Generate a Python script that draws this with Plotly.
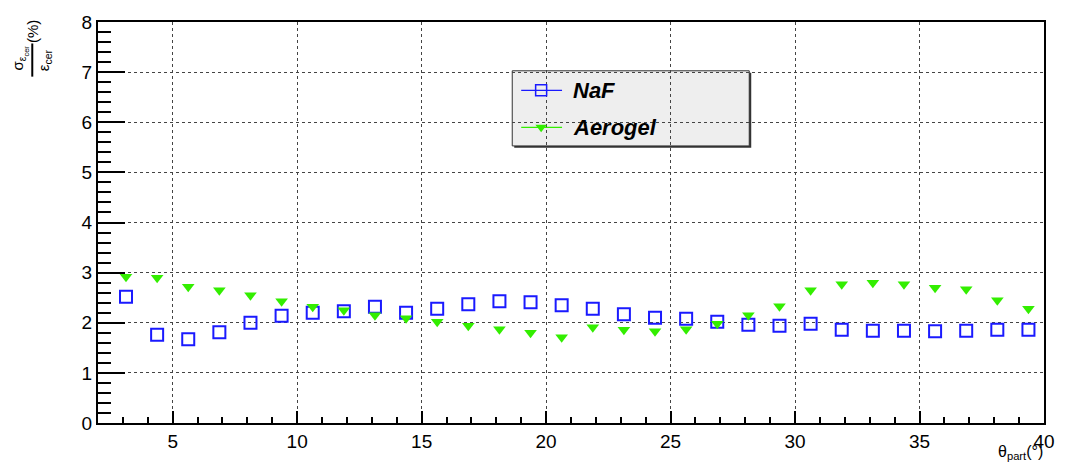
import plotly.graph_objects as go

# Bin centres of the particle polar angle (degrees)
theta = [3.125 + 1.25 * i for i in range(30)]

# Relative resolution of the Cherenkov efficiency (%)
naf = [2.52, 1.76, 1.67, 1.81, 2.00, 2.14, 2.20, 2.23, 2.32, 2.20,
       2.28, 2.37, 2.43, 2.41, 2.35, 2.28, 2.17, 2.10, 2.08, 2.02,
       1.96, 1.94, 1.98, 1.86, 1.84, 1.84, 1.83, 1.84, 1.86, 1.86]
aerogel = [2.92, 2.90, 2.72, 2.65, 2.55, 2.43, 2.32, 2.25, 2.15, 2.09,
           2.02, 1.94, 1.87, 1.80, 1.71, 1.91, 1.86, 1.83, 1.87, 1.98,
           2.15, 2.33, 2.65, 2.77, 2.80, 2.77, 2.70, 2.67, 2.45, 2.28]

series_names = ["NaF", "Aerogel"]
x_range = [2, 40]
y_range = [0, 8]

W, H = 1067, 468
L, R, T, B = 98, 19, 12, 45

BLUE = "#1a1aff"
GREEN = "#33ee00"
FONT = "Liberation Sans, Arial, sans-serif"


def px(xp):
    return (xp - L) / (W - L - R)


def py(yp):
    return (H - B - yp) / (H - T - B)


fig = go.Figure()

fig.add_trace(go.Scatter(
    x=theta, y=naf, mode="markers", name=series_names[0], showlegend=False,
    marker=dict(symbol="square-open", size=12, color=BLUE, line=dict(width=2, color=BLUE)),
))
fig.add_trace(go.Scatter(
    x=theta, y=aerogel, mode="markers", name=series_names[1], showlegend=False,
    marker=dict(symbol="triangle-down", size=11, color=GREEN, line=dict(width=0)),
))

# Legend box (drawn by hand to mimic the ROOT TLegend)
lx0, lx1, ly0, ly1 = 514, 752, 62, 139
shapes = [
    dict(type="rect", xref="paper", yref="paper", layer="between",
         x0=px(lx0 + 2), x1=px(lx1 + 2), y0=py(ly1 + 2), y1=py(ly0 + 2),
         fillcolor="#333333", line=dict(width=0)),
    dict(type="rect", xref="paper", yref="paper", layer="between",
         x0=px(lx0), x1=px(lx1), y0=py(ly1), y1=py(ly0),
         fillcolor="#eeeeee", line=dict(color="#333333", width=1)),
]
entry_y = [82, 120]
entry_col = [BLUE, GREEN]
for yy, col in zip(entry_y, entry_col):
    shapes.append(dict(type="line", xref="paper", yref="paper", layer="between",
                       x0=px(523), x1=px(564), y0=py(yy), y1=py(yy),
                       line=dict(color=col, width=1.2)))

# y-axis title drawn as a rotated fraction
shapes.append(dict(type="line", xref="paper", yref="paper",
                   x0=px(32), x1=px(32), y0=py(68), y1=py(34),
                   line=dict(color="black", width=2)))

# Legend markers on an overlay axis spanning the paper
fig.add_trace(go.Scatter(
    x=[px(543)], y=[py(entry_y[0])], xaxis="x2", yaxis="y2", mode="markers",
    showlegend=False, hoverinfo="skip",
    marker=dict(symbol="square-open", size=11, color=BLUE, line=dict(width=1.5, color=BLUE)),
))
fig.add_trace(go.Scatter(
    x=[px(543)], y=[py(entry_y[1])], xaxis="x2", yaxis="y2", mode="markers",
    showlegend=False, hoverinfo="skip",
    marker=dict(symbol="triangle-down", size=10, color=GREEN, line=dict(width=0)),
))

annotations = []
for name, yy in zip(series_names, entry_y):
    annotations.append(dict(
        xref="paper", yref="paper", x=px(573), y=py(yy), xanchor="left", yanchor="middle",
        text=f"<b><i>{name}</i></b>", showarrow=False,
        font=dict(family=FONT, size=22, color="black")))

annotations += [
    dict(xref="paper", yref="paper", x=px(19), y=py(49), textangle=-90,
         xanchor="center", yanchor="middle", showarrow=False,
         text="σ<sub>ε<sub>cer</sub></sub>", font=dict(family=FONT, size=15, color="black")),
    dict(xref="paper", yref="paper", x=px(44), y=py(51), textangle=-90,
         xanchor="center", yanchor="middle", showarrow=False,
         text="ε<sub>cer</sub>", font=dict(family=FONT, size=15, color="black")),
    dict(xref="paper", yref="paper", x=px(32), y=py(22), textangle=-90,
         xanchor="center", yanchor="middle", showarrow=False,
         text="(%)", font=dict(family=FONT, size=15, color="black")),
    dict(xref="paper", yref="paper", x=px(1049), y=py(453),
         xanchor="right", yanchor="middle", showarrow=False,
         text="θ<sub>part</sub>(°)", font=dict(family=FONT, size=16, color="black")),
]

axis_common = dict(
    showline=True, linecolor="black", linewidth=2, mirror=True,
    ticks="inside", tickcolor="black", tickwidth=1.5,
    showgrid=True, gridcolor="#444444", gridwidth=1, griddash="dot",
    zeroline=False,
    tickfont=dict(family=FONT, size=19, color="black"),
)

fig.update_layout(
    width=W, height=H,
    margin=dict(l=L, r=R, t=T, b=B),
    paper_bgcolor="white", plot_bgcolor="white",
    showlegend=False,
    xaxis=dict(range=x_range, dtick=5, tick0=0, ticklen=12,
               minor=dict(dtick=1, tick0=0, ticklen=6, ticks="inside",
                          tickcolor="black", showgrid=False),
               **axis_common),
    yaxis=dict(range=y_range, dtick=1, tick0=0, ticklen=27,
               minor=dict(dtick=0.2, tick0=0, ticklen=13, ticks="inside",
                          tickcolor="black", showgrid=False),
               **axis_common),
    xaxis2=dict(range=[0, 1], overlaying="x", visible=False, fixedrange=True),
    yaxis2=dict(range=[0, 1], overlaying="y", visible=False, fixedrange=True),
    shapes=shapes,
    annotations=annotations,
)

fig.write_html("out.html")
